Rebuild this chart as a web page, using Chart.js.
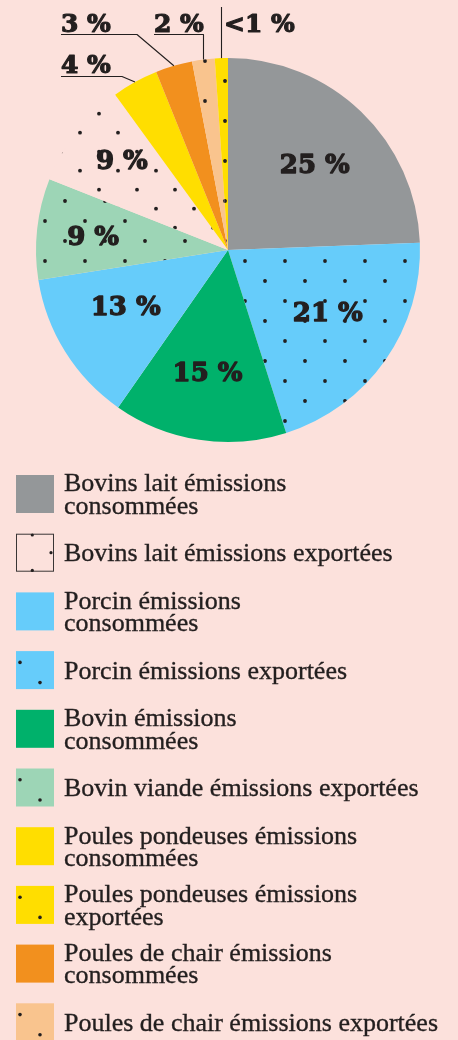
<!DOCTYPE html>
<html><head><meta charset="utf-8">
<script src="https://cdn.jsdelivr.net/npm/chart.js@4.4.1/dist/chart.umd.min.js"></script>
<style>html,body{margin:0;padding:0;background:#FCE1DC;}canvas{display:block;}</style>
</head><body>
<canvas id="c" width="458" height="1040"></canvas>
<script>
// Slices in clockwise order starting at 12 o'clock
const categories = [
  "Bovins lait émissions consommées",
  "Porcin émissions exportées",
  "Bovin émissions consommées",
  "Porcin émissions consommées",
  "Bovin viande émissions exportées",
  "Bovins lait émissions exportées",
  "Poules pondeuses émissions consommées",
  "Poules de chair émissions consommées",
  "Poules de chair émissions exportées",
  "Poules pondeuses émissions exportées"
];
const values = [24.4, 20.7, 14.6, 12.8, 8.5, 9.0, 3.9, 3.1, 1.9, 1.1];
const valueLabels = ["25 %", "21 %", "15 %", "13 %", "9 %", "9 %", "4 %", "3 %", "2 %", "<1 %"];
const legendLines = [
  ["Bovins lait émissions", "consommées"],
  ["Porcin émissions exportées"],
  ["Bovin émissions", "consommées"],
  ["Porcin émissions", "consommées"],
  ["Bovin viande émissions exportées"],
  ["Bovins lait émissions exportées"],
  ["Poules pondeuses émissions", "consommées"],
  ["Poules de chair émissions", "consommées"],
  ["Poules de chair émissions exportées"],
  ["Poules pondeuses émissions", "exportées"]
];
const legendOrder = [0, 5, 3, 1, 2, 4, 6, 9, 7, 8];

// styles
const BG = "#FCE1DC";
const INK = "#231F1F";
const baseColors = ["#949799", "#66CCFA", "#00B16B", "#66CCFA", "#9DD5B6", BG, "#FFDE00", "#F2901E", "#F9C48E", "#FFDE00"];
const dotted = [false, true, false, false, true, true, false, false, true, true];

// label placement (style, not data)
const insideLabelPos = [
  { r: 0.637, dx: 2, dy: 2 },
  { r: 0.61, dx: 4, dy: -6 },
  { r: 0.639, dx: -2, dy: 0 },
  { r: 0.604, dx: -4, dy: -6 },
  { r: 0.707, dx: 0, dy: 0 },
  { r: 0.726, dx: 4, dy: -5 },
  null, null, null, null
];
const outsideLabelPos = [
  null, null, null, null, null, null,
  { x: 61, baseline: 72.5, underline: 76, elbow: 122 },
  { x: 61, baseline: 31.5, underline: 34, elbow: 137 },
  { x: 154, baseline: 31.5, underline: 34, elbow: 'edge' },
  { x: 224, baseline: 31.5, vertical: true, lineTop: 7 }
];
const legendLayout = {
  left: 16, top: 475, step: 58.7, box: 38, textX: 64,
  lineHeight: 22.3, capHalf: 8.6,
  font: '26px "Liberation Serif"'
};

const canvas = document.getElementById('c');
const mainCtx = canvas.getContext('2d');

function dotPattern(bg, tile, px, py) {
  const c = document.createElement('canvas');
  c.width = tile; c.height = tile;
  const g = c.getContext('2d');
  g.fillStyle = bg; g.fillRect(0, 0, tile, tile);
  g.fillStyle = INK;
  const pts = [[px, py], [px + tile / 2, py + tile / 2]];
  for (const [x0, y0] of pts) {
    const x = ((x0 % tile) + tile) % tile, y = ((y0 % tile) + tile) % tile;
    for (const dx of [-tile, 0, tile]) for (const dy of [-tile, 0, tile]) {
      g.beginPath(); g.arc(x + dx, y + dy, 1.9, 0, Math.PI * 2); g.fill();
    }
  }
  return mainCtx.createPattern(c, 'repeat');
}

const fills = baseColors.map((col, i) => {
  if (!dotted[i]) return col;
  if (i === 5) return dotPattern(col, 38, 4, 18.7);
  return dotPattern(col, 40, 5, 21);
});

function boldText(ctx, t, x, y, w) {
  ctx.lineWidth = w;
  ctx.lineJoin = 'round';
  ctx.strokeText(t, x, y);
  ctx.fillText(t, x, y);
}

const sliceLabels = {
  id: 'sliceLabels',
  afterDatasetsDraw(chart) {
    const ctx = chart.ctx;
    const meta = chart.getDatasetMeta(0);
    ctx.save();
    ctx.fillStyle = INK;
    ctx.strokeStyle = INK;
    meta.data.forEach((arc, i) => {
      const p = arc.getProps(['x', 'y', 'startAngle', 'endAngle', 'outerRadius'], true);
      const mid = (p.startAngle + p.endAngle) / 2;
      const ins = insideLabelPos[i];
      if (ins) {
        const r = p.outerRadius * ins.r;
        const tx = p.x + Math.cos(mid) * r + ins.dx;
        const ty = p.y + Math.sin(mid) * r + ins.dy;
        ctx.font = 'bold 26px "DejaVu Serif"';
        ctx.textAlign = 'center';
        ctx.textBaseline = 'alphabetic';
        boldText(ctx, valueLabels[i], tx, ty + 9.5, 1.3);
        return;
      }
      const o = outsideLabelPos[i];
      if (!o) return;
      const ex = p.x + Math.cos(mid) * p.outerRadius;
      const ey = p.y + Math.sin(mid) * p.outerRadius;
      ctx.font = 'bold 25px "DejaVu Serif"';
      ctx.textAlign = 'left';
      ctx.textBaseline = 'alphabetic';
      boldText(ctx, valueLabels[i], o.x, o.baseline, 1.2);
      ctx.lineWidth = 1.1;
      ctx.beginPath();
      if (o.vertical) {
        ctx.moveTo(Math.round(ex) + 0.5, o.lineTop);
        ctx.lineTo(Math.round(ex) + 0.5, ey);
      } else {
        const ux = o.elbow === 'edge' ? Math.round(ex) + 0.5 : o.elbow;
        ctx.moveTo(o.x, o.underline + 0.5);
        ctx.lineTo(ux, o.underline + 0.5);
        ctx.lineTo(o.elbow === 'edge' ? ux : ex, ey);
      }
      ctx.stroke();
    });
    ctx.restore();
  }
};

const boxLegend = {
  id: 'boxLegend',
  afterDraw(chart) {
    const opts = legendLayout;
    const ctx = chart.ctx;
    ctx.save();
    legendOrder.forEach((idx, k) => {
      const top = opts.top + k * opts.step;
      const left = opts.left, s = opts.box;
      ctx.fillStyle = baseColors[idx];
      ctx.fillRect(left, top, s, s);
      ctx.fillStyle = INK;
      if (idx === 5) {
        ctx.strokeStyle = '#3a3636';
        ctx.lineWidth = 1;
        ctx.strokeRect(left + 0.5, top + 0.5, s - 1, s - 1);
        for (const [dx, dy] of [[16.3, 1.3], [35, 19], [16.3, 36.7]]) {
          ctx.beginPath(); ctx.arc(left + dx, top + dy, 1.6, 0, Math.PI * 2); ctx.fill();
        }
      } else if (dotted[idx]) {
        for (const [dx, dy] of [[4, 11.3], [24, 31.5]]) {
          ctx.beginPath(); ctx.arc(left + dx, top + dy, 1.8, 0, Math.PI * 2); ctx.fill();
        }
      }
      const lines = legendLines[idx];
      ctx.font = opts.font;
      ctx.textAlign = 'left';
      ctx.textBaseline = 'alphabetic';
      ctx.strokeStyle = INK;
      ctx.lineWidth = 0.35;
      const center = top + s / 2;
      const first = center + opts.capHalf - (lines.length - 1) * opts.lineHeight / 2;
      lines.forEach((t, j) => {
        ctx.fillText(t, opts.textX, first + j * opts.lineHeight);
        ctx.strokeText(t, opts.textX, first + j * opts.lineHeight);
      });
    });
    ctx.restore();
  }
};

new Chart(canvas, {
  type: 'pie',
  data: {
    labels: categories,
    datasets: [{
      data: values,
      backgroundColor: fills,
      borderWidth: 0,
      hoverOffset: 0
    }]
  },
  options: {
    responsive: false,
    devicePixelRatio: 1,
    animation: false,
    events: [],
    layout: { padding: { left: 36, right: 38, top: 58, bottom: 598 } },
    plugins: {
      legend: { display: false },
      tooltip: { enabled: false }
    }
  },
  plugins: [sliceLabels, boxLegend]
});
</script>
</body></html>
